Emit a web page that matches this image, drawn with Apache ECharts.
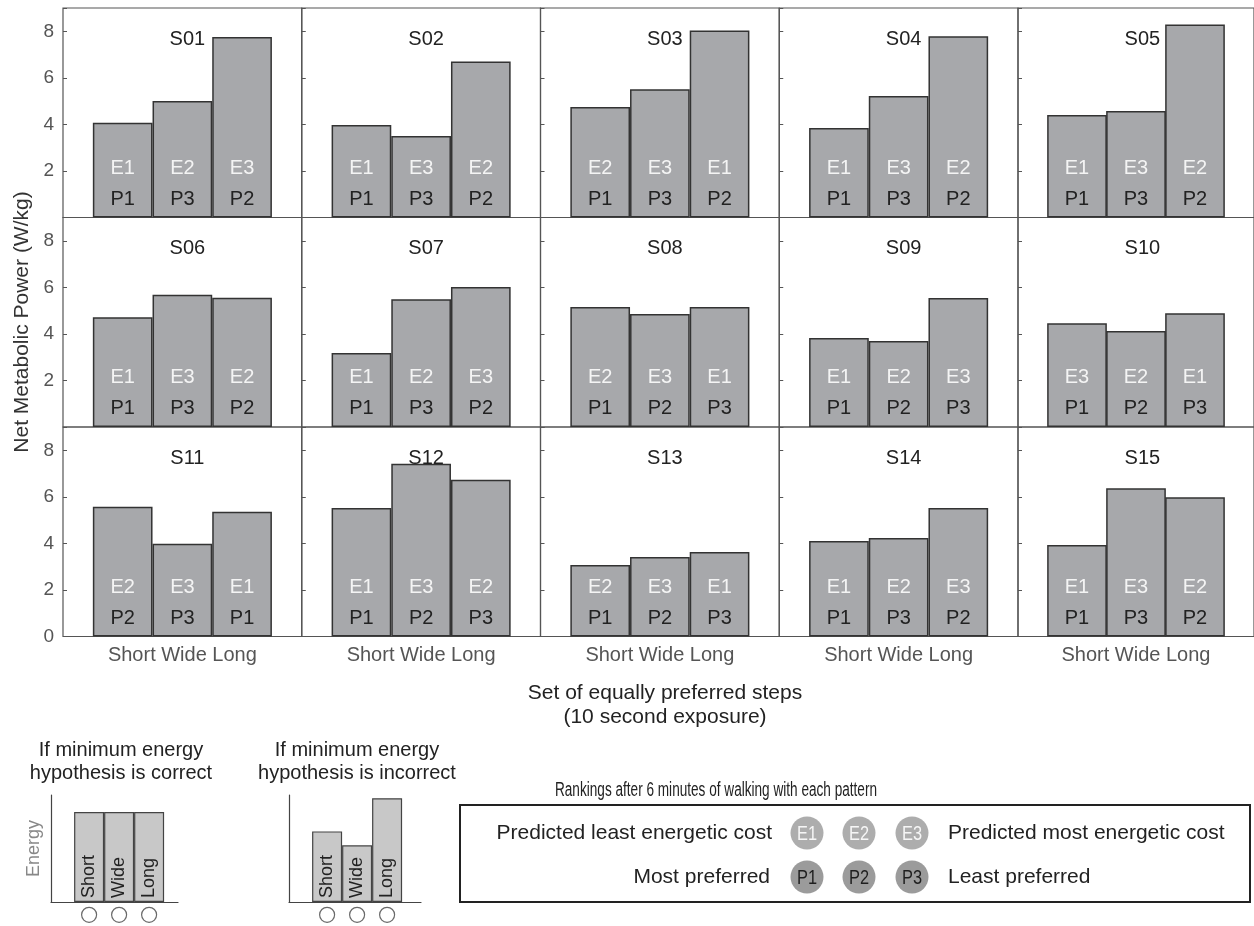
<!DOCTYPE html>
<html>
<head>
<meta charset="utf-8">
<title>Net metabolic power by step pattern</title>
<script src="https://cdn.jsdelivr.net/npm/echarts@6/dist/echarts.min.js"></script>
<style>
html, body { margin: 0; padding: 0; background: #fff; }
#content { width: 1254px; height: 926px; }
</style>
</head>
<body>
<div id="content"></div>
<script>
// data
var subjects = ['S01', 'S02', 'S03', 'S04', 'S05', 'S06', 'S07', 'S08', 'S09', 'S10', 'S11', 'S12', 'S13', 'S14', 'S15'];
var steps = ['Short', 'Wide', 'Long'];
// net metabolic power (W/kg), order Short / Wide / Long
var power = [
    [4.07, 5.00, 7.75], [3.97, 3.50, 6.70], [4.75, 5.51, 8.03], [3.84, 5.22, 7.79], [4.40, 4.58, 8.29],
    [4.72, 5.68, 5.55], [3.18, 5.49, 6.01], [5.15, 4.85, 5.15], [3.82, 3.69, 5.54], [4.46, 4.12, 4.89],
    [5.57, 3.98, 5.36], [5.52, 7.42, 6.73], [3.07, 3.42, 3.63], [4.10, 4.23, 5.52], [3.93, 6.37, 5.98]
];
// predicted energetic rank (E) and preference rank (P)
var energyRank = [
    [1, 2, 3], [1, 3, 2], [2, 3, 1], [1, 3, 2], [1, 3, 2],
    [1, 3, 2], [1, 2, 3], [2, 3, 1], [1, 2, 3], [3, 2, 1],
    [2, 3, 1], [1, 3, 2], [2, 3, 1], [1, 2, 3], [1, 3, 2]
];
var prefRank = [
    [1, 3, 2], [1, 3, 2], [1, 3, 2], [1, 3, 2], [1, 3, 2],
    [1, 3, 2], [1, 3, 2], [1, 2, 3], [1, 2, 3], [1, 2, 3],
    [2, 3, 1], [1, 2, 3], [1, 2, 3], [1, 3, 2], [1, 3, 2]
];
var yTicks = [0, 2, 4, 6, 8];
// schematic insets (arbitrary energy units)
var correctEnergy = [0.84, 0.84, 0.84];
var incorrectEnergy = [0.66, 0.53, 0.97];
var eLegend = ['E1', 'E2', 'E3'];
var pLegend = ['P1', 'P2', 'P3'];

var FONT = '"Liberation Sans", Arial, sans-serif';

var myChart = echarts.init(document.getElementById('content'));

var panelLeft = 63, panelTop = 8, panelW = 238.75, panelH = 209.5;
var grid = [], xAxis = [], yAxis = [], series = [], title = [];

subjects.forEach(function (name, i) {
    var r = Math.floor(i / 5), c = i % 5;
    var left = panelLeft + c * panelW, top = panelTop + r * panelH;
    grid.push({ left: left, top: top, width: panelW, height: panelH, show: true, borderColor: '#555', borderWidth: 1.2 });
    xAxis.push({
        gridIndex: i, type: 'value', min: 0, max: 4,
        axisLine: { show: false }, axisTick: { show: false }, axisLabel: { show: false }, splitLine: { show: false },
        name: r === 2 ? steps.join(' ') : '', nameLocation: 'middle', nameGap: 9,
        nameTextStyle: { color: '#555', fontSize: 20, fontFamily: FONT }
    });
    yAxis.push({
        gridIndex: i, type: 'value', min: 0, max: 9, interval: 2,
        axisLine: { show: false },
        axisTick: { show: true, inside: true, length: 4, lineStyle: { color: '#555' } },
        axisLabel: {
            show: c === 0, color: '#555', fontSize: 19, fontFamily: FONT, margin: 9,
            formatter: function (v) {
                if (yTicks.indexOf(v) < 0) return '';
                if (v === 0 && r < 2) return '';
                return v;
            }
        },
        splitLine: { show: false }
    });
    series.push({
        type: 'bar', xAxisIndex: i, yAxisIndex: i, barWidth: panelW / 4,
        data: power[i].map(function (v, j) { return [j + 1, v]; }),
        itemStyle: { color: '#a7a8ab', borderColor: '#333', borderWidth: 1.5 },
        label: {
            show: true, position: 'insideBottom', distance: 3,
            formatter: function (p) {
                return '{e|E' + energyRank[i][p.dataIndex] + '}\n{p|P' + prefRank[i][p.dataIndex] + '}';
            },
            rich: {
                e: { color: '#f4f4f4', fontSize: 20, lineHeight: 31, fontFamily: FONT },
                p: { color: '#222', fontSize: 20, lineHeight: 31, fontFamily: FONT }
            }
        },
        silent: true
    });
    title.push({
        text: name, left: left + panelW / 2, top: top + 16, textAlign: 'center',
        textStyle: { fontSize: 20, fontWeight: 'normal', color: '#222', fontFamily: FONT }
    });
});

// schematic insets
function addSchematic(values, left, width, showName) {
    var g = grid.length;
    grid.push({ left: left, top: 795, width: width, height: 107 });
    xAxis.push({
        gridIndex: g, type: 'value', min: 0, max: width / 30,
        axisLine: { show: true, lineStyle: { color: '#444', width: 1.2 } },
        axisTick: { show: false }, axisLabel: { show: false }, splitLine: { show: false }
    });
    yAxis.push({
        gridIndex: g, type: 'value', min: 0, max: 1,
        axisLine: { show: true, lineStyle: { color: '#444', width: 1.2 } },
        axisTick: { show: false }, axisLabel: { show: false }, splitLine: { show: false },
        name: showName ? 'Energy' : '', nameLocation: 'middle', nameGap: 8,
        nameTextStyle: { color: '#888', fontSize: 18, fontFamily: FONT }
    });
    series.push({
        type: 'bar', xAxisIndex: g, yAxisIndex: g, barWidth: 30,
        data: values.map(function (v, j) { return [j + 1.27, v]; }),
        itemStyle: { color: '#c8c8c8', borderColor: '#444', borderWidth: 1.2 },
        label: {
            show: true, position: 'insideBottom', rotate: 90, align: 'left', verticalAlign: 'middle', distance: 4,
            color: '#222', fontSize: 18, fontFamily: FONT,
            formatter: function (p) { return steps[p.dataIndex]; }
        },
        silent: true
    });
    series.push({
        type: 'scatter', xAxisIndex: g, yAxisIndex: g, clip: false, symbolSize: 15,
        data: values.map(function (v, j) { return [j + 1.27, -0.12]; }),
        itemStyle: { color: '#fff', borderColor: '#444', borderWidth: 1.2 },
        silent: true
    });
}
addSchematic(correctEnergy, 51, 127, true);
addSchematic(incorrectEnergy, 289, 132, false);

title.push({
    text: 'Set of equally preferred steps\n(10 second exposure)', left: 660, top: 676, textAlign: 'center',
    textStyle: { fontSize: 21, lineHeight: 24, fontWeight: 'normal', color: '#222', fontFamily: FONT }
});
title.push({
    text: 'If minimum energy\nhypothesis is correct', left: 116, top: 734, textAlign: 'center',
    textStyle: { fontSize: 20, lineHeight: 23, fontWeight: 'normal', color: '#222', fontFamily: FONT }
});
title.push({
    text: 'If minimum energy\nhypothesis is incorrect', left: 352, top: 734, textAlign: 'center',
    textStyle: { fontSize: 20, lineHeight: 23, fontWeight: 'normal', color: '#222', fontFamily: FONT }
});

// legend box (condensed type is imitated with a horizontal squeeze)
var graphic = [
    { type: 'text', x: 22, y: 322, rotation: Math.PI / 2,
      style: { text: 'Net Metabolic Power (W/kg)', fill: '#333', fontSize: 21, fontFamily: FONT, align: 'center', verticalAlign: 'middle' } },
    { type: 'text', x: 716, y: 790, scaleX: 0.68,
      style: { text: 'Rankings after 6 minutes of walking with each pattern', fill: '#222', fontSize: 20, fontFamily: FONT, align: 'center', verticalAlign: 'middle' } },
    { type: 'rect', shape: { x: 460, y: 805, width: 790, height: 97 },
      style: { fill: 'none', stroke: '#222', lineWidth: 2 } },
    { type: 'text', x: 772, y: 833, style: { text: 'Predicted least energetic cost', fill: '#222', fontSize: 21, fontFamily: FONT, align: 'right', verticalAlign: 'middle' } },
    { type: 'text', x: 948, y: 833, style: { text: 'Predicted most energetic cost', fill: '#222', fontSize: 21, fontFamily: FONT, align: 'left', verticalAlign: 'middle' } },
    { type: 'text', x: 770, y: 877, style: { text: 'Most preferred', fill: '#222', fontSize: 21, fontFamily: FONT, align: 'right', verticalAlign: 'middle' } },
    { type: 'text', x: 948, y: 877, style: { text: 'Least preferred', fill: '#222', fontSize: 21, fontFamily: FONT, align: 'left', verticalAlign: 'middle' } }
];
var legendX = [807, 859, 912];
eLegend.forEach(function (t, k) {
    graphic.push({ type: 'circle', shape: { cx: legendX[k], cy: 833, r: 16.5 }, style: { fill: '#adadad' } });
    graphic.push({ type: 'text', x: legendX[k], y: 834, scaleX: 0.78, style: { text: t, fill: '#f6f6f6', fontSize: 21, fontFamily: FONT, align: 'center', verticalAlign: 'middle' } });
});
pLegend.forEach(function (t, k) {
    graphic.push({ type: 'circle', shape: { cx: legendX[k], cy: 877, r: 16.5 }, style: { fill: '#9b9b9b' } });
    graphic.push({ type: 'text', x: legendX[k], y: 878, scaleX: 0.78, style: { text: t, fill: '#1e1e1e', fontSize: 21, fontFamily: FONT, align: 'center', verticalAlign: 'middle' } });
});

myChart.setOption({
    animation: false,
    textStyle: { fontFamily: FONT },
    title: title,
    grid: grid,
    xAxis: xAxis,
    yAxis: yAxis,
    series: series,
    graphic: graphic
});
</script>
</body>
</html>
